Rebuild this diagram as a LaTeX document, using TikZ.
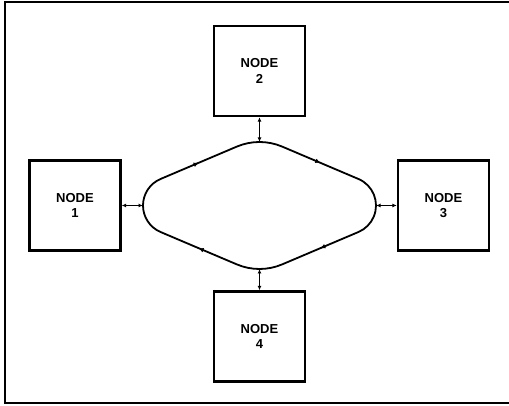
\documentclass[tikz,border=0pt]{standalone}
\usepackage{fontspec}
\setmainfont{Liberation Sans}
\usetikzlibrary{arrows.meta,decorations.markings}
\begin{document}
\begin{tikzpicture}[x=1pt,y=1pt,
  nodebox/.style={draw, line width=2.4pt, minimum width=91pt, minimum height=90pt,
    align=center, font=\bfseries\fontsize{13}{15.5}\selectfont, inner sep=0pt},
  link/.style={line width=1pt, {Latex[length=4.5pt,width=4pt]}-{Latex[length=4.5pt,width=4pt]}},
  ringline/.style={line width=1.8pt},
  flowmark/.style={decoration={markings, mark=at position 0.5 with {\arrow{Latex[length=5pt,width=4.5pt]}}}, decorate}]
\useasboundingbox (0,0) rectangle (509,406);
% frame (right side cropped)
\draw[line width=2pt] (509,3) -- (5,3) -- (5,404.3) -- (509,404.3);
% nodes
\node[nodebox] (n2) at (259.5,335) {NODE\\2};
\node[nodebox] (n1) at (75,200.5) {NODE\\1};
\node[nodebox] (n3) at (443.5,200.5) {NODE\\3};
\node[nodebox] (n4) at (259.5,69.5) {NODE\\4};
% ring
\coordinate (rL) at (143,200.5);
\coordinate (rT) at (259.5,264);
\coordinate (rR) at (376,200.5);
\coordinate (rB) at (259.5,137);
\coordinate (ulA) at (160.55,227.01);
\coordinate (ulB) at (236.8,259.38);
\coordinate (urA) at (282.2,259.38);
\coordinate (urB) at (358.45,227.01);
\coordinate (lrA) at (358.45,173.99);
\coordinate (lrB) at (282.2,141.62);
\coordinate (llA) at (236.8,141.62);
\coordinate (llB) at (160.55,173.99);
\draw[ringline] (rL) arc[start angle=180, end angle=113, radius=28.8]
  -- (ulB) arc[start angle=113, end angle=67, radius=58.1]
  -- (urB) arc[start angle=67, end angle=-67, radius=28.8]
  -- (lrB) arc[start angle=-67, end angle=-113, radius=58.1]
  -- (llB) arc[start angle=247, end angle=180, radius=28.8] -- cycle;
\path[flowmark] (ulA) -- (ulB);
\path[flowmark] (urA) -- (urB);
\path[flowmark] (lrA) -- (lrB);
\path[flowmark] (llA) -- (llB);
% links
\draw[link] (n2.south) -- (rT);
\draw[link] (n1.east) -- (rL);
\draw[link] (rR) -- (n3.west);
\draw[link] (rB) -- (n4.north);
\end{tikzpicture}
\end{document}
